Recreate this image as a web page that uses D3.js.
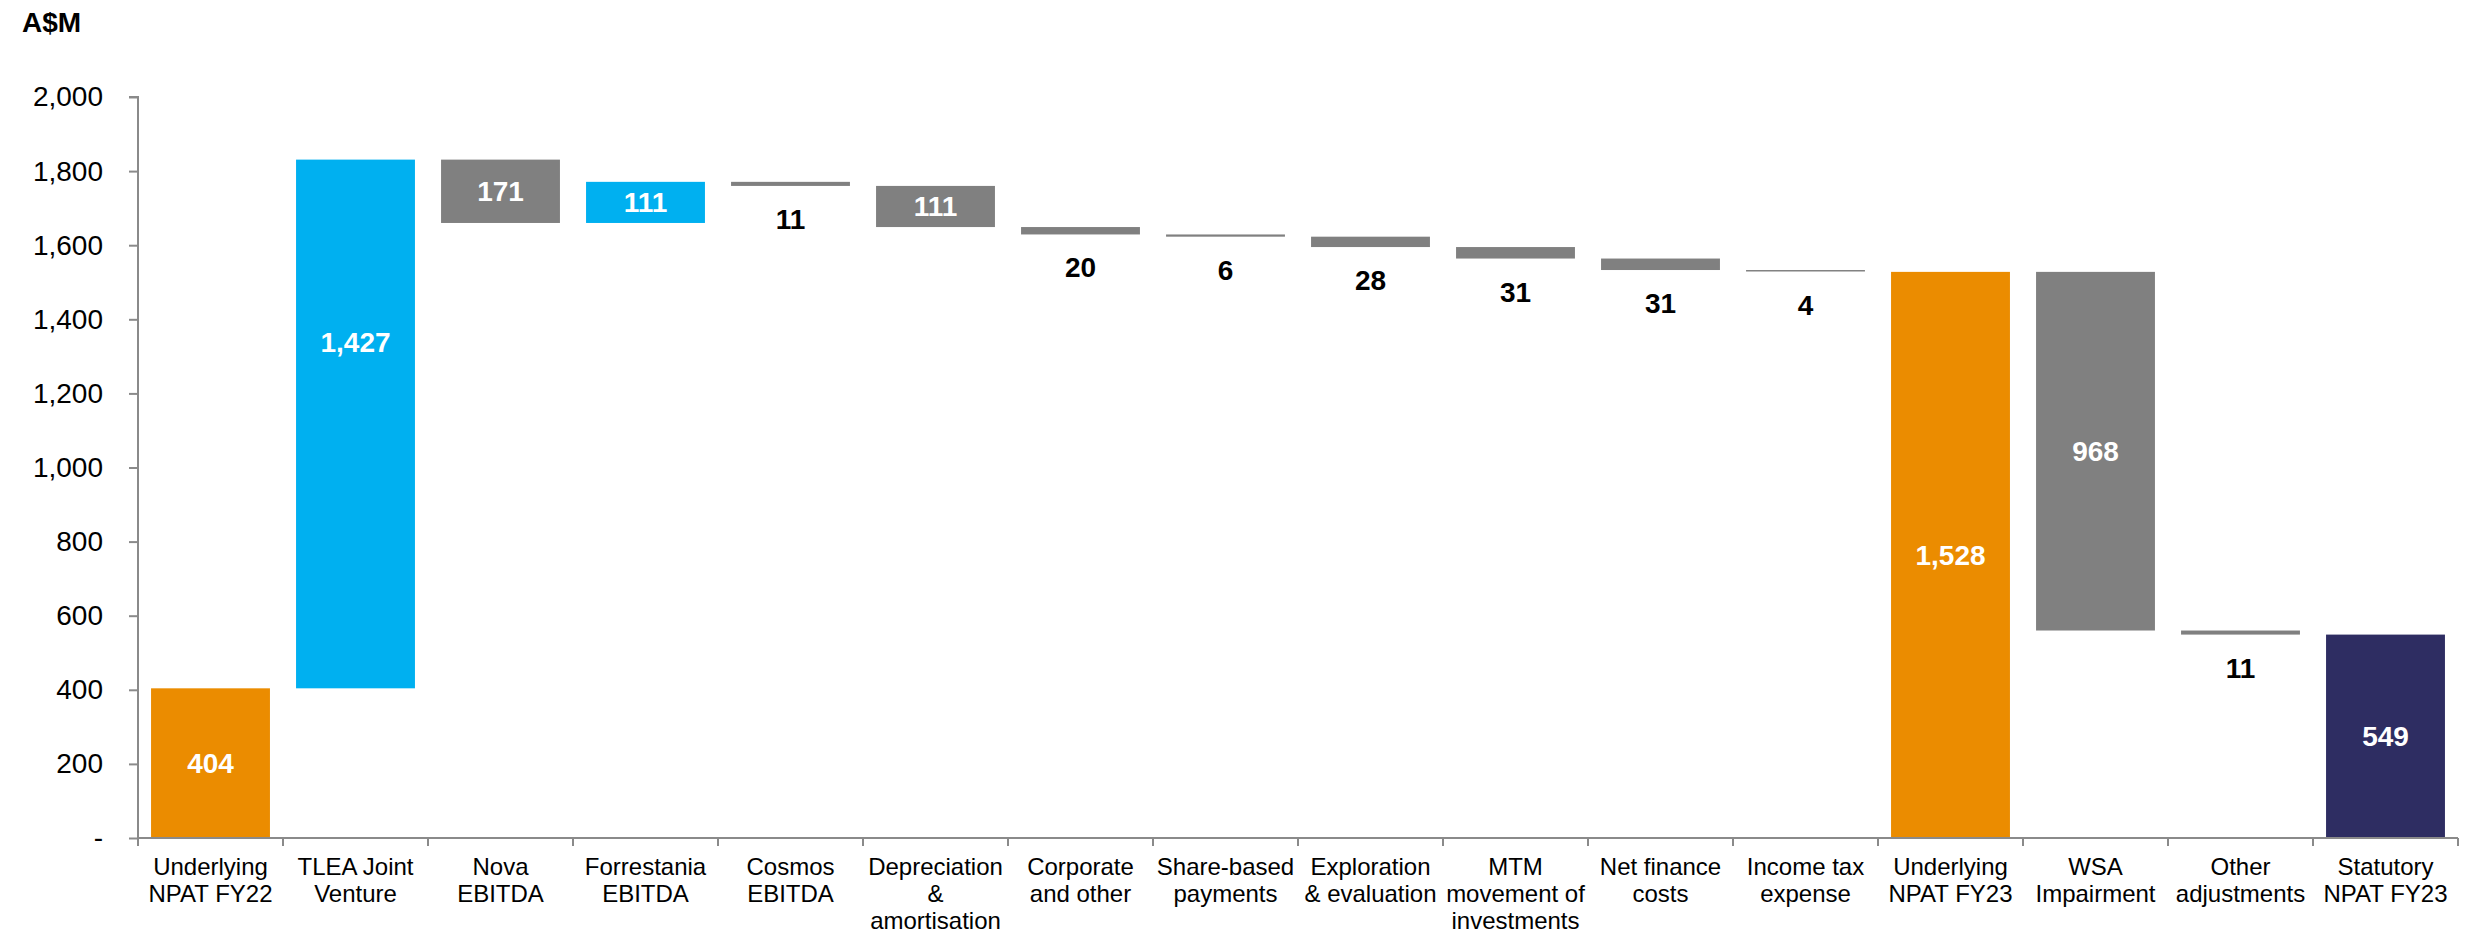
<!DOCTYPE html>
<html>
<head>
<meta charset="utf-8">
<script src="https://cdn.jsdelivr.net/npm/d3@7"></script>
<style>
  html, body { margin: 0; padding: 0; background: #ffffff; }
  svg { display: block; font-family: "Liberation Sans", Arial, Helvetica, sans-serif; }
</style>
</head>
<body>
<svg id="chart" width="2474" height="933"></svg>
<script>
// Profit bridge, A$M: underlying NPAT FY22 to statutory NPAT FY23
const categories = [
  "Underlying\nNPAT FY22",
  "TLEA Joint\nVenture",
  "Nova\nEBITDA",
  "Forrestania\nEBITDA",
  "Cosmos\nEBITDA",
  "Depreciation\n&\namortisation",
  "Corporate\nand other",
  "Share-based\npayments",
  "Exploration\n& evaluation",
  "MTM\nmovement of\ninvestments",
  "Net finance\ncosts",
  "Income tax\nexpense",
  "Underlying\nNPAT FY23",
  "WSA\nImpairment",
  "Other\nadjustments",
  "Statutory\nNPAT FY23"
];
// Totals are absolute; movements are signed changes
const values = [404, 1427, -171, 111, -11, -111, -20, -6, -28, -31, -31, -4, 1528, -968, -11, 549];
const kinds  = ["start", "move", "move", "move", "move", "move", "move", "move",
                "move", "move", "move", "move", "subtotal", "move", "move", "end"];
const yTicks = [0, 200, 400, 600, 800, 1000, 1200, 1400, 1600, 1800, 2000];

const colours = { start: "#EB8C00", subtotal: "#EB8C00", end: "#2E2D62", up: "#00B0F0", down: "#808080" };

// Build the floating segments
let running = 0;
const bars = categories.map((c, i) => {
  const v = values[i];
  let lo, hi, colour;
  if (kinds[i] === "move") {
    lo = Math.min(running, running + v);
    hi = Math.max(running, running + v);
    running += v;
    colour = v >= 0 ? colours.up : colours.down;
  } else {
    lo = 0; hi = v; running = v;
    colour = colours[kinds[i]];
  }
  return { cat: c, i, v, lo, hi, colour };
});

const svg = d3.select("#chart");
const plotLeft = 138, plotRight = 2458, plotTop = 97, plotBottom = 838;

const x = d3.scaleBand().domain(d3.range(categories.length)).range([plotLeft, plotRight])
  .paddingInner(0.18).paddingOuter(0.09);
const y = d3.scaleLinear().domain([0, 2000]).range([plotBottom, plotTop]);

const axisColour = "#8a8a8a";

// Bars
svg.append("g").selectAll("rect").data(bars).join("rect")
  .attr("x", d => x(d.i))
  .attr("width", x.bandwidth())
  .attr("y", d => y(d.hi))
  .attr("height", d => Math.max(1, y(d.lo) - y(d.hi)))
  .attr("fill", d => d.colour);

// Y axis
const yAxis = d3.axisLeft(y).tickValues(yTicks).tickSize(9).tickPadding(26)
  .tickFormat(v => v === 0 ? "-" : d3.format(",")(v));
const gy = svg.append("g").attr("transform", `translate(${plotLeft},0)`).call(yAxis);
gy.select(".domain").attr("stroke", axisColour).attr("stroke-width", 2)
  .attr("d", `M-9,${plotTop}H0V${plotBottom + 8}`);
gy.selectAll(".tick line").attr("stroke", axisColour).attr("stroke-width", 2);
gy.selectAll(".tick text").attr("font-size", 28).attr("fill", "#000")
  .attr("font-family", "Liberation Sans, Arial, sans-serif");

// X axis: baseline with boundary ticks between categories
const gx = svg.append("g");
gx.append("line").attr("x1", plotLeft).attr("x2", plotRight).attr("y1", plotBottom).attr("y2", plotBottom)
  .attr("stroke", axisColour).attr("stroke-width", 2);
const bandW = (plotRight - plotLeft) / categories.length;
gx.selectAll("line.tk").data(d3.range(categories.length + 1)).join("line")
  .attr("class", "tk")
  .attr("x1", k => plotLeft + k * bandW)
  .attr("x2", k => plotLeft + k * bandW)
  .attr("y1", plotBottom).attr("y2", plotBottom + 8)
  .attr("stroke", axisColour).attr("stroke-width", 2);

// Category labels
const catG = svg.append("g").attr("font-size", 24).attr("fill", "#000").attr("text-anchor", "middle");
bars.forEach(d => {
  const cx = x(d.i) + x.bandwidth() / 2;
  const t = catG.append("text").attr("x", cx).attr("y", 875);
  d.cat.split("\n").forEach((line, k) => {
    t.append("tspan").attr("x", cx).attr("dy", k === 0 ? 0 : 27).text(line);
  });
});

// Value labels: inside large bars in white, beneath small bars in black
const lift = { 1: 0.155 };
const fmt = d3.format(",");
const valG = svg.append("g").attr("font-size", 28).attr("font-weight", "bold").attr("text-anchor", "middle");
bars.forEach(d => {
  const cx = x(d.i) + x.bandwidth() / 2;
  const h = y(d.lo) - y(d.hi);
  const inside = Math.abs(d.v) >= 100;
  if (inside) {
    const cy = (y(d.lo) + y(d.hi)) / 2 - (lift[d.i] || 0) * h;
    valG.append("text").attr("x", cx).attr("y", cy).attr("dy", "0.35em")
      .attr("fill", "#ffffff").text(fmt(Math.abs(d.v)));
  } else {
    valG.append("text").attr("x", cx).attr("y", y(d.lo) + 43)
      .attr("fill", "#000000").text(fmt(Math.abs(d.v)));
  }
});

// Unit label
svg.append("text").attr("x", 22).attr("y", 32).attr("font-size", 28).attr("font-weight", "bold")
  .attr("fill", "#000").text("A$M");
</script>
</body>
</html>
